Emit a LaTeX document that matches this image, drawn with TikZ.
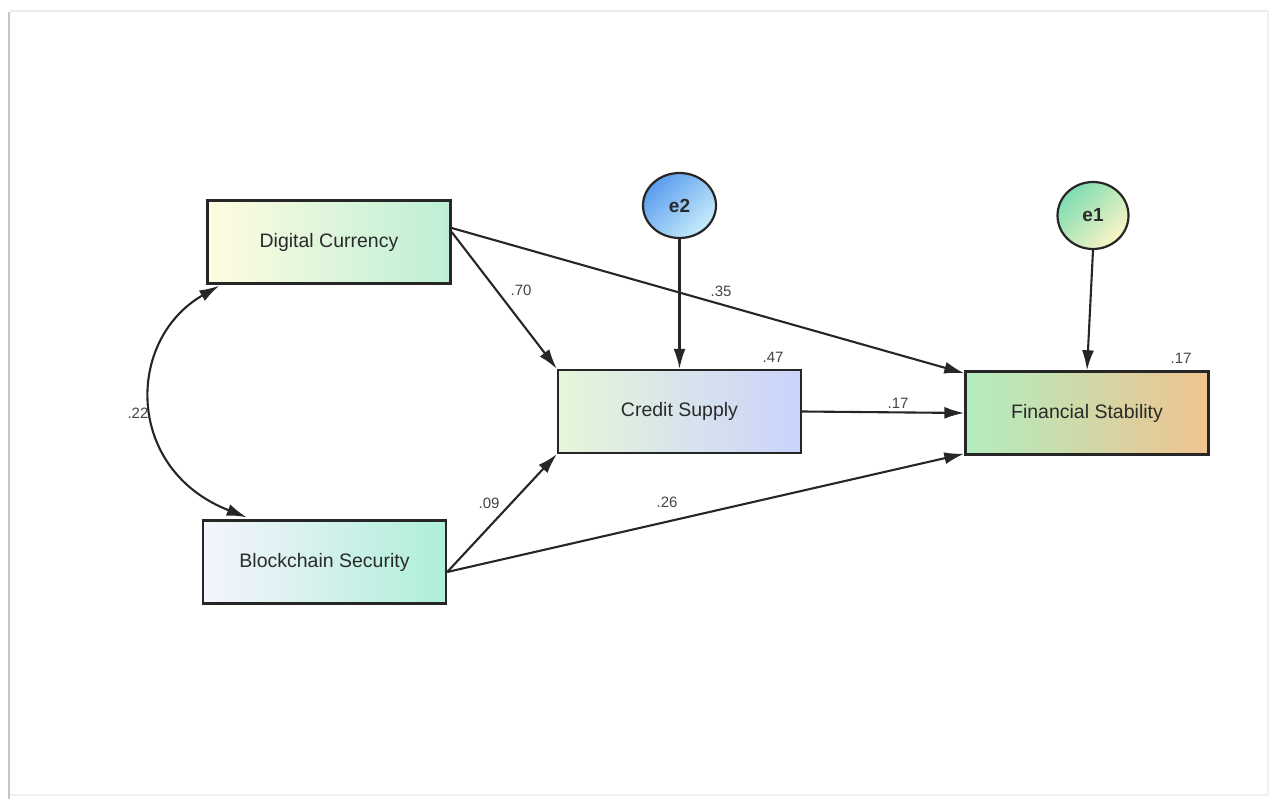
\documentclass[tikz,border=0pt]{standalone}
\usepackage{fontspec}
\setmainfont{Liberation Sans}
\usetikzlibrary{arrows.meta,calc,shapes.geometric}
\definecolor{dcL}{HTML}{FFFCE0}
\definecolor{dcR}{HTML}{BDEFD6}
\definecolor{bsL}{HTML}{F6F4FE}
\definecolor{bsR}{HTML}{AEEFD9}
\definecolor{csL}{HTML}{E6F6DA}
\definecolor{csR}{HTML}{CAD3FB}
\definecolor{fsL}{HTML}{B2EDC0}
\definecolor{fsR}{HTML}{EFC38F}
\definecolor{eTwoA}{HTML}{5A9DEE}
\definecolor{eTwoB}{HTML}{C8ECFB}
\definecolor{eOneA}{HTML}{7FDCB2}
\definecolor{eOneB}{HTML}{FBF5C6}
\definecolor{edge}{HTML}{262626}
\definecolor{txt}{HTML}{2A2A2A}
\definecolor{ctxt}{HTML}{444444}
\begin{document}
\begin{tikzpicture}[x=1pt,y=-1pt,
  obs/.style={draw=edge,line width=2.4pt,rectangle,minimum width=243pt,minimum height=83pt,inner sep=0pt,
    font=\fontsize{19.5}{22}\selectfont,text=txt},
  err/.style={draw=edge,line width=2.2pt,ellipse,inner sep=0pt,font=\fontsize{19}{22}\selectfont\bfseries,text=txt},
  pth/.style={draw=edge,line width=2.1pt,-{Latex[length=20pt,width=12pt]}},
  cov/.style={draw=edge,line width=2.1pt,{Latex[length=20pt,width=12pt]}-{Latex[length=20pt,width=12pt]}},
  coef/.style={font=\fontsize{15}{17}\selectfont,text=ctxt,inner sep=0pt}]
\useasboundingbox (0,0) rectangle (1271,799);
\fill[white] (0,0) rectangle (1271,799);
% page frame shadow
\draw[gray!15,line width=1.5pt] (10,11) -- (1268,11);
\draw[gray!45,line width=2.2pt] (9,12) -- (9,799);
\draw[gray!12,line width=1.5pt] (1268,11) -- (1268,795);
\draw[gray!12,line width=1.5pt] (10,795) -- (1268,795);
% nodes
\node[obs,left color=dcL,right color=dcR] (DC) at (329,242) {Digital Currency};
\node[obs,left color=bsL,right color=bsR] (BS) at (324.5,562) {Blockchain Security};
\node[obs,left color=csL,right color=csR] (CS) at (679.5,411.5) {Credit Supply};
\node[obs,left color=fsL,right color=fsR] (FS) at (1087,413) {Financial Stability};
\node[err,minimum width=73pt,minimum height=65pt,top color=eTwoA,bottom color=eTwoB,shading angle=45] (E2) at (679.5,205.5) {e2};
\node[err,minimum width=71pt,minimum height=67pt,top color=eOneA,bottom color=eOneB,shading angle=45] (E1) at (1093,215.5) {e1};
% connector anchors
\coordinate (dcA) at ($(DC.east)+(0,-10)$);
\coordinate (dcB) at ($(DC.east)+(0,-14)$);
\coordinate (bsA) at ($(BS.east)+(0,10)$);
\coordinate (fsT) at ($(FS.north west)+(0,3)$);
\coordinate (fsB) at ($(FS.south west)+(0,-2)$);
\coordinate (covA) at ($(DC.south west)+(13,1)$);
\coordinate (covB) at ($(BS.north west)+(45,-2)$);
% paths
\draw[pth] (dcA) -- (CS.north west);
\draw[pth] (dcB) -- (fsT);
\draw[pth] (bsA) -- (CS.south west);
\draw[pth] (bsA) -- (fsB);
\draw[pth] (CS.east) -- (FS.west);
\draw[pth] (E2.south) -- (CS.north);
\draw[pth] (E1.south) -- (FS.north);
\draw[cov] (covA) .. controls (125,340) and (125,470) .. (covB);
% coefficients
\node[coef] (c70) at (521,290) {.70};
\node[coef] (c35) at (721,291) {.35};
\node[coef] (c47) at (773,357) {.47};
\node[coef] (c09) at (489,503) {.09};
\node[coef] (c26) at (667,502) {.26};
\node[coef] (c17a) at (898,403) {.17};
\node[coef] (c17b) at (1181,358) {.17};
\node[coef] (c22) at (138,413) {.22};
\end{tikzpicture}
\end{document}
